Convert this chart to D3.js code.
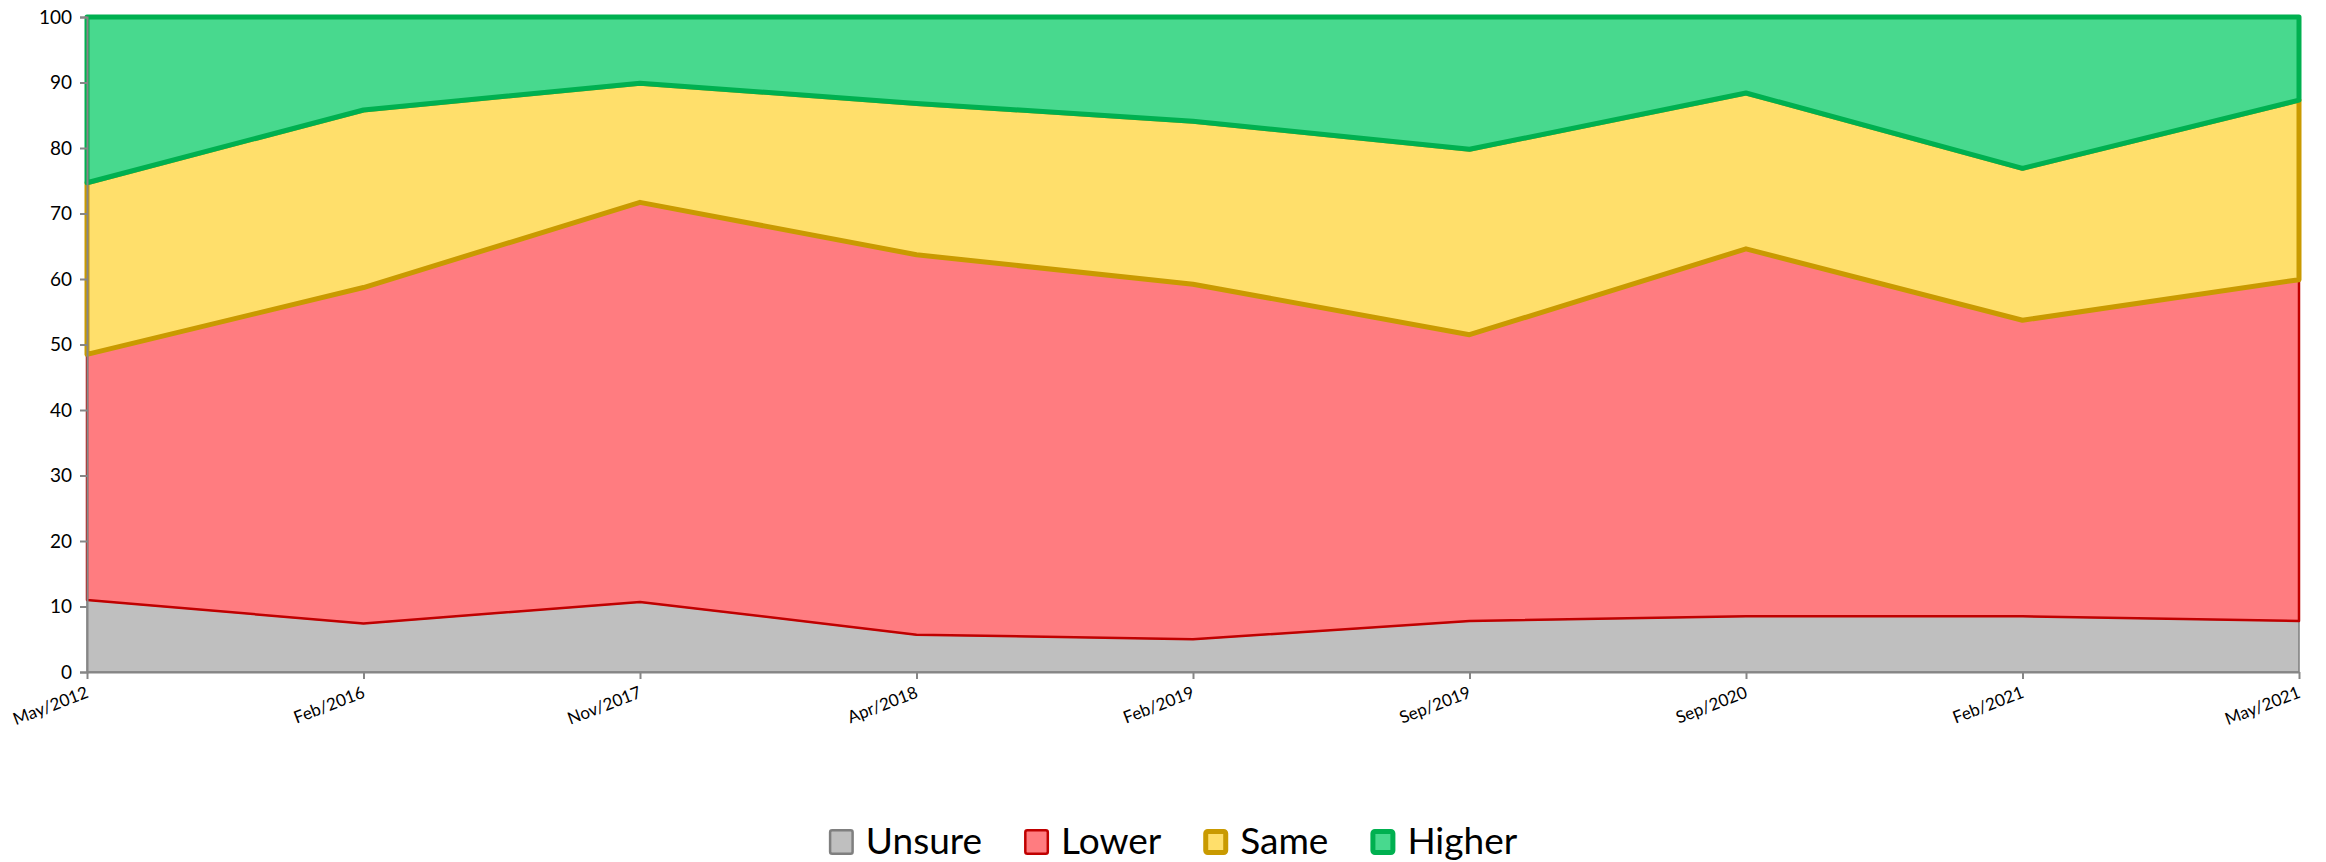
<!DOCTYPE html>
<meta charset="utf-8">
<style>
  body { margin: 0; background: #fff; }
  svg text { font-family: Lato, "Open Sans", sans-serif; fill: #000; }
</style>
<svg width="2326" height="862"></svg>
<script src="https://d3js.org/d3.v7.min.js"></script>
<script>

var dates  = ["May/2012", "Feb/2016", "Nov/2017", "Apr/2018", "Feb/2019", "Sep/2019", "Sep/2020", "Feb/2021", "May/2021"];
var unsure = [11.0, 7.4, 10.7, 5.7, 5.0, 7.8, 8.5, 8.5, 7.8];
var lower  = [37.5, 51.3, 61.0, 58.0, 54.2, 43.7, 56.1, 45.2, 52.1];
var same   = [26.2, 27.1, 18.2, 23.1, 24.9, 28.3, 23.8, 23.2, 27.4];
var higher = [25.3, 14.2, 10.1, 13.2, 15.9, 20.2, 11.6, 23.1, 12.7];
var yTicks = [0, 10, 20, 30, 40, 50, 60, 70, 80, 90, 100];

var keys = ["Unsure", "Lower", "Same", "Higher"];
var fills   = {Unsure: "#bfbfbf", Lower: "#ff7c80", Same: "#ffdf6b", Higher: "#48d98e"};
var strokes = {Unsure: "#7f7f7f", Lower: "#c00000", Same: "#c99a00", Higher: "#00b050"};
var widths  = {Unsure: 1.5, Lower: 2.5, Same: 5, Higher: 5};

var rows = dates.map(function(d, i) {
  return {date: d, Unsure: unsure[i], Lower: lower[i], Same: same[i], Higher: higher[i]};
});

var svg = d3.select("svg"),
    plotLeft = 87, plotRight = 2299, plotTop = 17, plotBottom = 672;

var x = d3.scalePoint().domain(dates).range([plotLeft, plotRight]);
var y = d3.scaleLinear().domain([0, 100]).range([plotBottom, plotTop]);

var series = d3.stack().keys(keys)(rows);

var area = d3.area()
    .x(function(d) { return x(d.data.date); })
    .y0(function(d) { return y(d[0]); })
    .y1(function(d) { return y(d[1]); });

svg.append("g").selectAll("path")
  .data(series)
  .join("path")
    .attr("d", area)
    .attr("fill", function(d) { return fills[d.key]; })
    .attr("stroke", function(d) { return strokes[d.key]; })
    .attr("stroke-width", function(d) { return widths[d.key]; })
    .attr("stroke-linejoin", "round");

// y axis
var yAxis = svg.append("g")
    .attr("transform", "translate(" + plotLeft + ",0)")
    .call(d3.axisLeft(y).tickValues(yTicks).tickSize(7).tickPadding(8));
yAxis.select(".domain").attr("stroke", "#868686").attr("stroke-width", 2);
yAxis.selectAll(".tick line").attr("stroke", "#868686").attr("stroke-width", 2);
yAxis.selectAll(".tick text").style("font-size", "19px").attr("fill", "#000");

// x axis
var xAxis = svg.append("g")
    .attr("transform", "translate(0," + plotBottom + ")")
    .call(d3.axisBottom(x).tickSize(7).tickSizeOuter(0));
xAxis.select(".domain").attr("stroke", "#868686").attr("stroke-width", 2);
xAxis.selectAll(".tick line").attr("stroke", "#868686").attr("stroke-width", 2);
xAxis.selectAll(".tick text")
    .style("font-size", "17px")
    .attr("fill", "#000")
    .attr("text-anchor", "end")
    .attr("dy", null)
    .attr("y", 0)
    .attr("transform", "translate(2,25) rotate(-21)");

// legend
var legend = svg.append("g");
var xpos = 0;
keys.forEach(function(k) {
  var item = legend.append("g").attr("transform", "translate(" + xpos + ",0)");
  var bw = widths[k] > 3 ? 5 : 2.5;
  item.append("rect")
      .attr("x", bw / 2).attr("y", 829 + bw / 2)
      .attr("width", 25 - bw).attr("height", 26 - bw)
      .attr("rx", 2)
      .attr("fill", fills[k]).attr("stroke", strokes[k]).attr("stroke-width", bw);
  var t = item.append("text")
      .attr("x", 37).attr("y", 854)
      .style("font-size", "37px")
      .text(k);
  xpos += 37 + t.node().getComputedTextLength() + 42;
});
var total = xpos - 42;
legend.attr("transform", "translate(" + (1173 - total / 2) + ",0)");

</script>
